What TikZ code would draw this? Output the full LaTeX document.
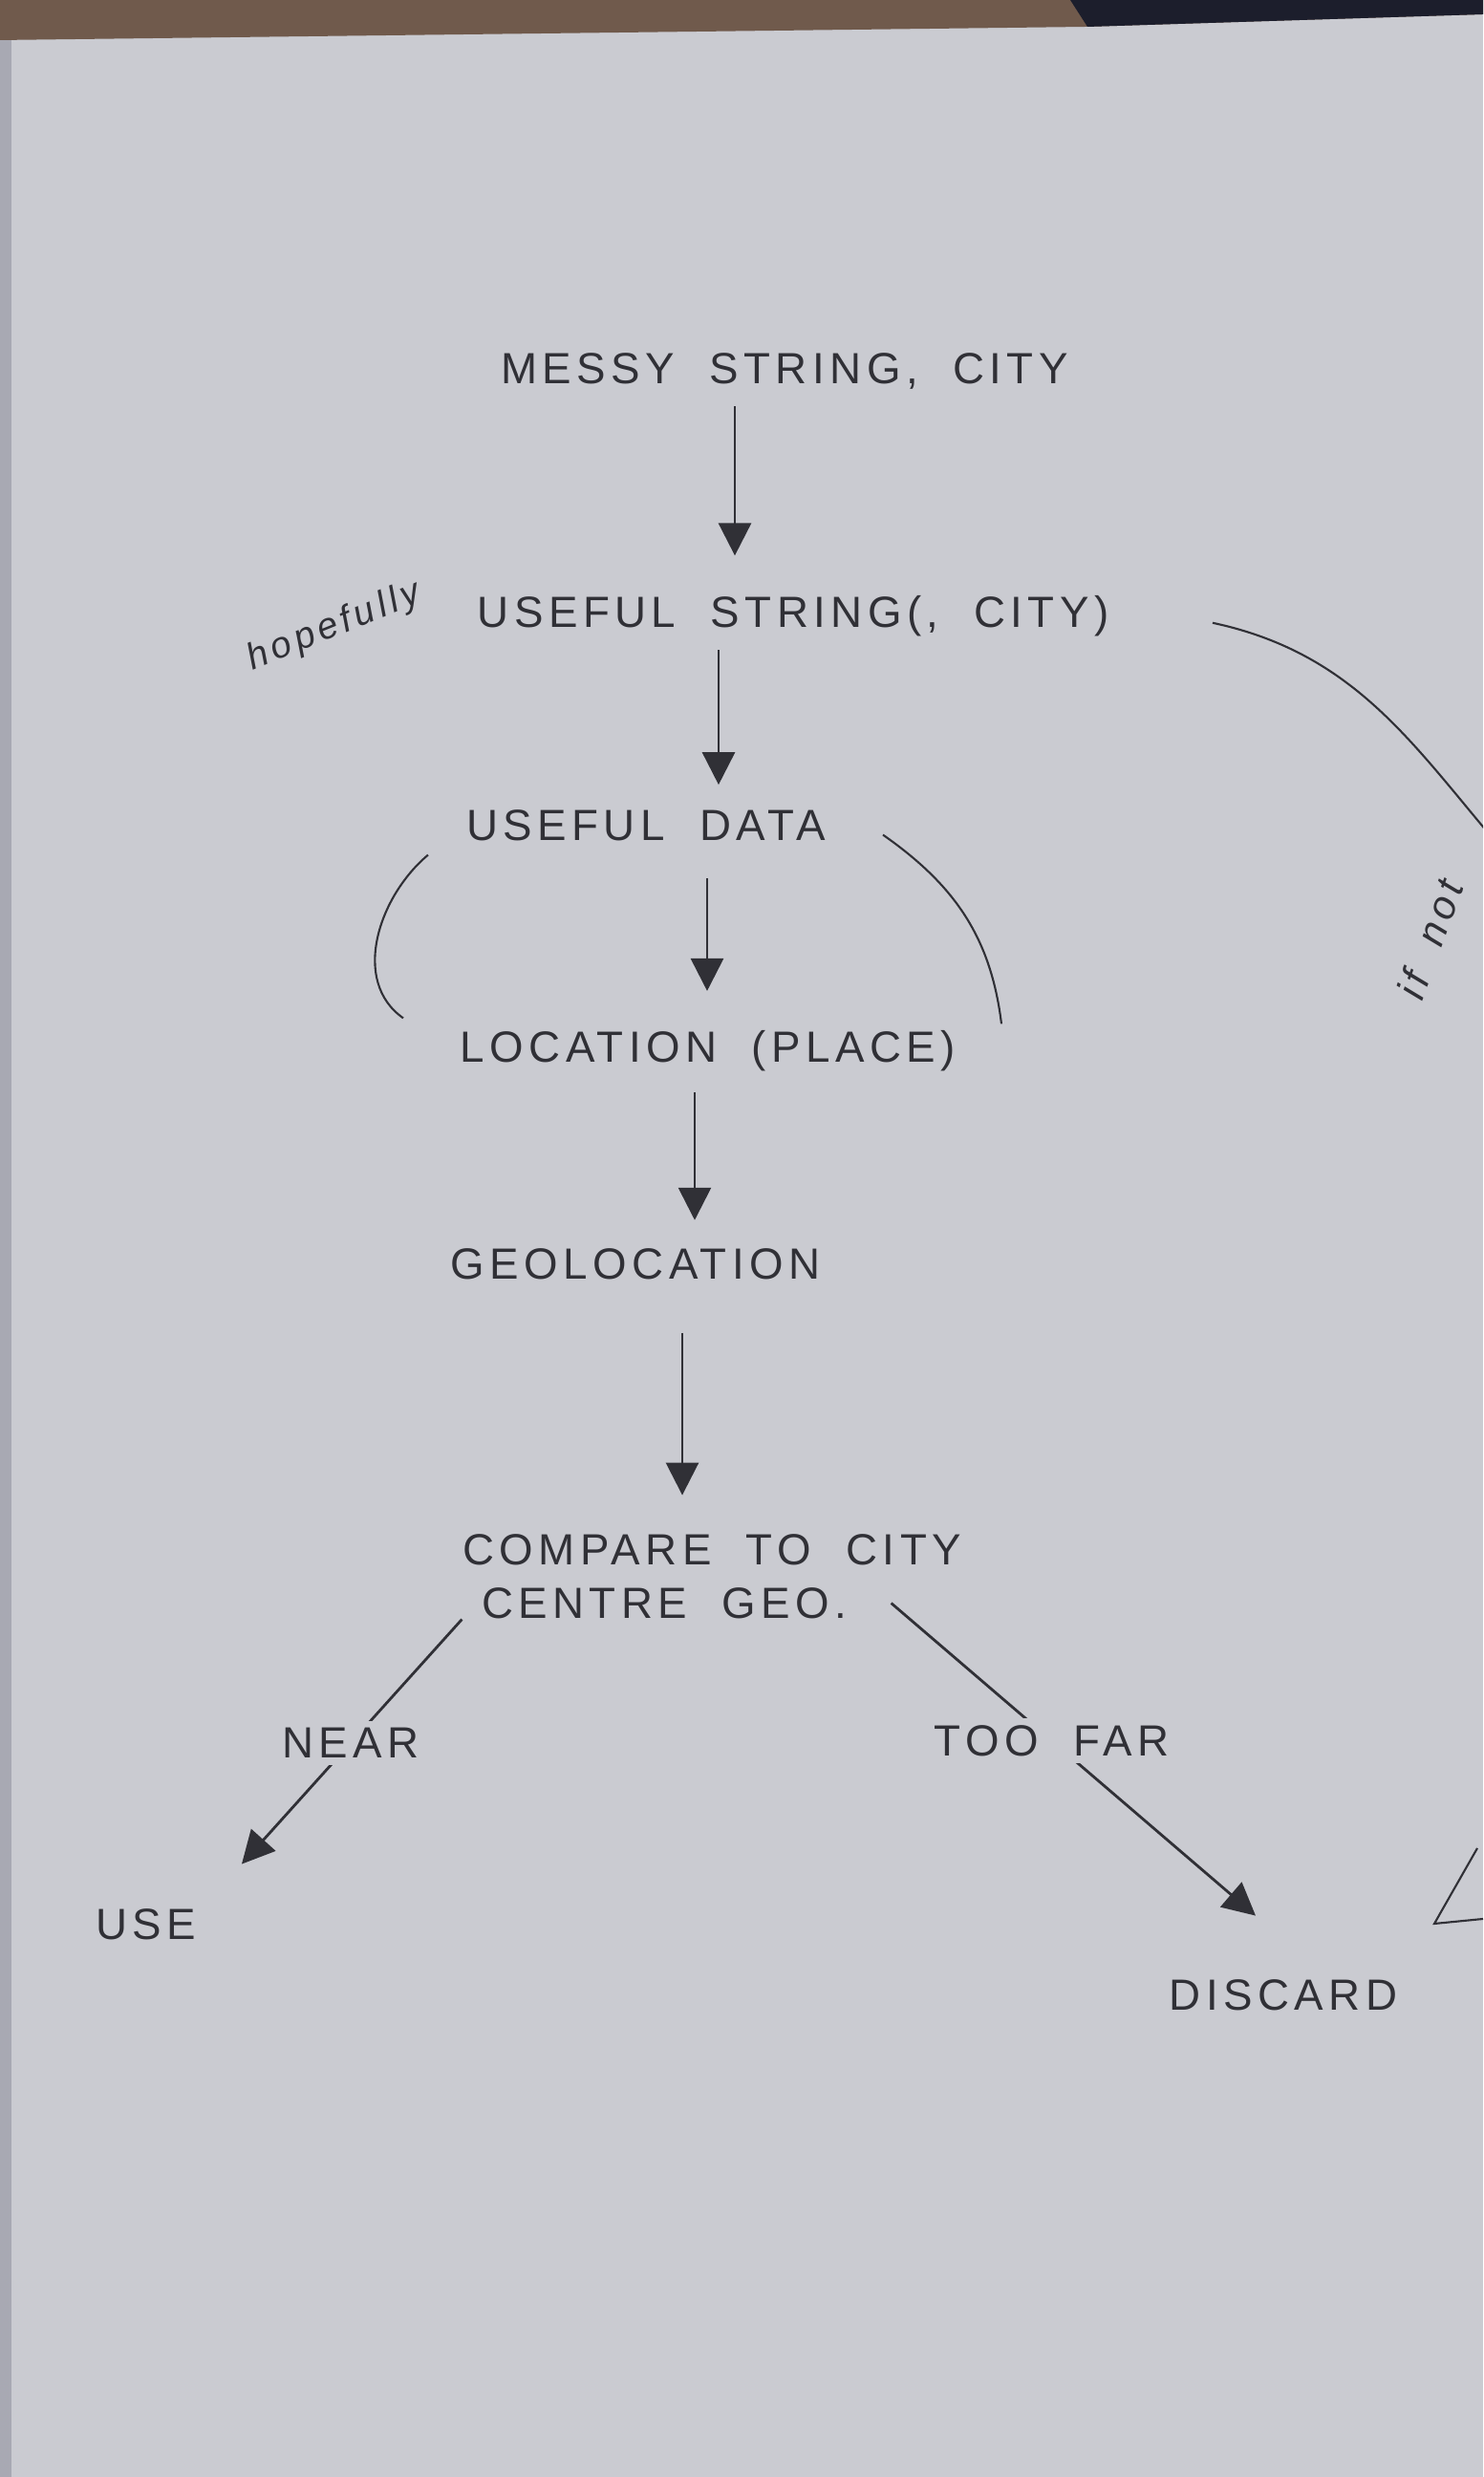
\documentclass[tikz,border=0pt]{standalone}
\usepackage{fontspec}
\setmainfont{Liberation Sans}[LetterSpace=12,WordSpace=2]
\usetikzlibrary{positioning,arrows.meta,calc}
\definecolor{paper}{RGB}{202,203,209}
\definecolor{ink}{RGB}{48,48,54}
\definecolor{wood}{RGB}{112,90,76}
\definecolor{navy}{RGB}{28,30,44}
\definecolor{edge}{RGB}{168,169,179}

\begin{document}
\begin{tikzpicture}[
  font=\fontsize{13}{16}\selectfont,
  lbl/.style={text=ink, inner sep=0pt, text height=0.75em, text depth=0.2em},
  note/.style={text=ink, inner sep=0pt, font=\fontsize{11}{13}\selectfont\itshape},
  fl/.style={draw=ink, line width=0.8pt, -{Triangle[length=3.4mm,width=3.4mm]}},
  ln/.style={draw=ink, line width=0.6pt}
]
\clip (0,0) rectangle (15.52,25.92);
% paper and table
\fill[paper] (0,0) rectangle (15.52,25.92);
\fill[wood] (0,25.92) -- (0,25.50) -- (11.38,25.64) -- (15.52,25.77) -- (15.52,25.92) -- cycle;
\fill[navy] (11.20,25.92) -- (11.38,25.64) -- (15.52,25.77) -- (15.52,25.92) -- cycle;
\fill[edge] (0,0) rectangle (0.12,25.50);

\node[lbl] (messy) at (8.21,22.00) {MESSY STRING, CITY};
\node[lbl, below=2.20cm of messy, xshift=0.9mm] (useful) {USEFUL STRING(, CITY)};
\node[lbl, below=1.88cm of useful, xshift=-15.4mm] (data) {USEFUL DATA};
\node[lbl, below=1.97cm of data, xshift=6.5mm] (loc) {LOCATION (PLACE)};
\node[lbl, below=1.93cm of loc, xshift=-7.6mm] (geo) {GEOLOCATION};
\node[text=ink, inner sep=0pt, align=left, below=2.58cm of geo, xshift=8mm] (comp) {COMPARE TO CITY\\\hspace*{2mm}CENTRE GEO.};
\node[lbl] (use) at (1.53,5.72) {USE};
\node[lbl] (discard) at (13.43,4.98) {DISCARD};
\node[note, rotate=22] (hope) at (3.50,19.36) {hopefully};
\node[note, rotate=70, font=\fontsize{12}{14}\selectfont\itshape] (ifnot) at (14.96,16.09) {if not};

\foreach \a/\b/\s/\p/\q in {messy/useful/-5.2mm/1.6mm/4.8mm, useful/data/-7.8mm/1.6mm/3.1mm,
  data/loc/6.4mm/3.2mm/4.7mm, loc/geo/-1.4mm/2.4mm/3.5mm, geo/comp/4.9mm/4.8mm/4mm}
  \draw[fl, shorten <=\p, shorten >=\q] ([xshift=\s]\a.south) -- ([xshift=\s]\a.south |- \b.north);

\draw[fl, shorten >=7mm] (comp.south west) -- (use.north east)
  node[pos=0.42, fill=paper, text=ink, inner sep=2pt] (near) {NEAR};
\draw[fl] ($(comp.south east)+(-0.74,0.17)$) -- ($(discard.north)+(-0.29,0.72)$)
  node[pos=0.44, fill=paper, text=ink, inner sep=2pt] (toofar) {TOO FAR};

% loop round data -> location
\draw[ln] ($(data.center)+(-2.28,-0.25)$) to[out=-140, in=145] ($(loc.center)+(-3.19,0.36)$);
\draw[ln] ($(data.center)+(2.48,-0.04)$) to[out=-35, in=97] ($(loc.center)+(3.07,0.30)$);

% if not: back round to discard
\coordinate (offr) at (16.3,16.4);
\coordinate (back) at (15.01,5.79);
\draw[ln] ($(useful.east)+(1.08,-0.05)$) to[out=-12, in=135] (offr);
\draw[ln] ($(back)+(0.45,0.79)$) -- (back) -- ($(back)+(0.51,0.05)$);
\end{tikzpicture}
\end{document}
